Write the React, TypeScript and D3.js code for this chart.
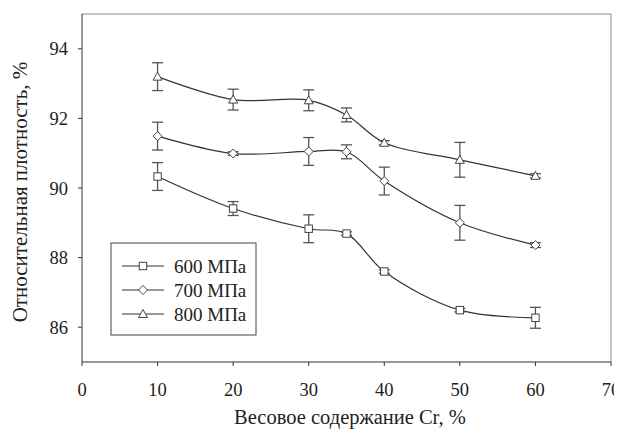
import React from "react";
import * as d3 from "d3";

const xValues = [10, 20, 30, 35, 40, 50, 60];
const series600 = [90.33, 89.41, 88.83, 88.69, 87.6, 86.49, 86.27];
const err600 = [0.4, 0.2, 0.4, 0.05, 0.05, 0.05, 0.3];
const series700 = [91.49, 90.99, 91.05, 91.04, 90.2, 89.0, 88.36];
const err700 = [0.4, 0.05, 0.4, 0.2, 0.4, 0.5, 0.07];
const series800 = [93.2, 92.54, 92.52, 92.1, 91.3, 90.81, 90.35];
const err800 = [0.4, 0.3, 0.3, 0.2, 0.06, 0.5, 0.06];
const seriesNames = ["600 МПа", "700 МПа", "800 МПа"];
const xTicks = [0, 10, 20, 30, 40, 50, 60, 70];
const yTicks = [86, 88, 90, 92, 94];

const W = 622;
const H = 437;
const margin = { left: 82, top: 14, right: 11, bottom: 75 };
const font = '"Liberation Serif", "DejaVu Serif", "Times New Roman", serif';

function Marker({ kind, x, y }: { kind: number; x: number; y: number }) {
  const st = { fill: "#fff", stroke: "#444", strokeWidth: 1 };
  if (kind === 0) return <rect x={x - 3.7} y={y - 3.7} width={7.4} height={7.4} {...st} />;
  if (kind === 1)
    return <path d={`M${x},${y - 4.5}L${x + 4.5},${y}L${x},${y + 4.5}L${x - 4.5},${y}Z`} {...st} />;
  return <path d={`M${x},${y - 4.5}L${x + 4.5},${y + 3.5}L${x - 4.5},${y + 3.5}Z`} {...st} />;
}

export default function App() {
  const x = d3.scaleLinear().domain([0, 70]).range([margin.left, W - margin.right]);
  const y = d3.scaleLinear().domain([85, 95]).range([H - margin.bottom, margin.top]);
  const line = d3
    .line<[number, number]>()
    .x((d) => x(d[0]))
    .y((d) => y(d[1]))
    .curve(d3.curveCatmullRom.alpha(0.5));

  const all = [
    { vals: series600, errs: err600 },
    { vals: series700, errs: err700 },
    { vals: series800, errs: err800 },
  ];
  const x0 = x(0), x1 = x(70), y0 = y(85), y1 = y(95);
  const txt = { fontFamily: font, fill: "#222" };

  return (
    <div style={{ margin: -8 }}>
      <svg width={W} height={H} style={{ display: "block", background: "#fff", fontFamily: font }}>
        <line x1={x0} x2={x1} y1={y1} y2={y1} stroke="#888" />
        <line x1={x1} x2={x1} y1={y1} y2={y0} stroke="#888" />
        <line x1={x0} x2={x0} y1={y1} y2={y0} stroke="#333" />
        <line x1={x0} x2={x1} y1={y0} y2={y0} stroke="#333" />
        {xTicks.map((t) => (
          <g key={"x" + t}>
            <line x1={x(t)} x2={x(t)} y1={y0} y2={y0 + 4} stroke="#333" />
            <text x={x(t)} y={396} textAnchor="middle" fontSize={18.5} style={txt}>
              {t}
            </text>
          </g>
        ))}
        {yTicks.map((t) => (
          <g key={"y" + t}>
            <line x1={x0 - 4} x2={x0} y1={y(t)} y2={y(t)} stroke="#333" />
            <text x={x0 - 14} y={y(t) + 6.5} textAnchor="end" fontSize={18.5} style={txt}>
              {t}
            </text>
          </g>
        ))}
        <text x={350} y={424} textAnchor="middle" fontSize={20.5} style={txt}>
          Весовое содержание Cr, %
        </text>
        <text
          transform={`translate(27,192) rotate(-90)`}
          textAnchor="middle"
          fontSize={21}
          style={txt}
        >
          Относительная плотность, %
        </text>
        {all.map((s, i) => {
          const pts = xValues.map((xv, j) => [xv, s.vals[j]] as [number, number]);
          return (
            <g key={i}>
              <path d={line(pts) || ""} fill="none" stroke="#333" strokeWidth={1.2} />
              {pts.map((p, j) => {
                const e = s.errs[j];
                const cx = x(p[0]);
                return (
                  <g key={j} stroke="#555" strokeWidth={1.3}>
                    <line x1={cx} x2={cx} y1={y(p[1] + e)} y2={y(p[1] - e)} />
                    <line x1={cx - 5.5} x2={cx + 5.5} y1={y(p[1] + e)} y2={y(p[1] + e)} />
                    <line x1={cx - 5.5} x2={cx + 5.5} y1={y(p[1] - e)} y2={y(p[1] - e)} />
                  </g>
                );
              })}
              {pts.map((p, j) => (
                <Marker key={"m" + j} kind={i} x={x(p[0])} y={y(p[1])} />
              ))}
            </g>
          );
        })}
        <rect x={111} y={243} width={145} height={92} fill="#fff" stroke="#444" />
        {seriesNames.map((n, i) => {
          const ly = 266 + i * 24;
          return (
            <g key={n}>
              <line x1={122} x2={164} y1={ly} y2={ly} stroke="#333" strokeWidth={1.2} />
              <Marker kind={i} x={143} y={ly} />
              <text x={174} y={ly + 6.5} fontSize={19} style={txt}>
                {n}
              </text>
            </g>
          );
        })}
      </svg>
    </div>
  );
}
